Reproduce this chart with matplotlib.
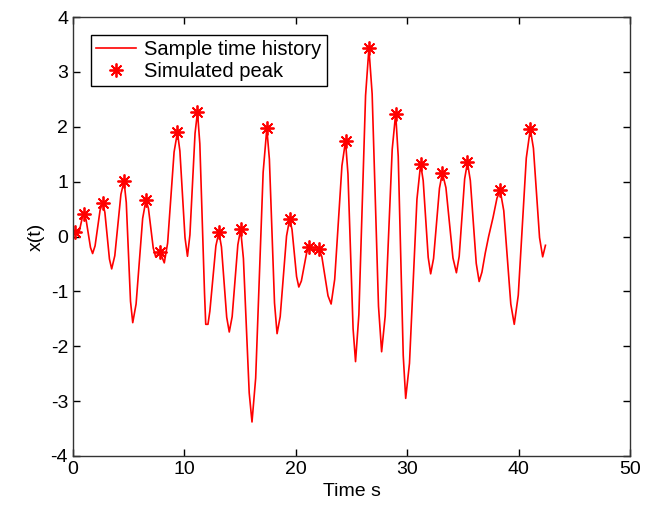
"""Sample time history with simulated peaks."""

import matplotlib
matplotlib.use("Agg")
import matplotlib.pyplot as plt

plt.rcParams["font.family"] = ["Liberation Sans", "DejaVu Sans"]
plt.rcParams["axes.unicode_minus"] = False

# trace (time in s, response x(t))
trace_t = [0.0, 0.15, 0.45, 0.59, 0.86, 1.0, 1.19, 1.58, 1.77, 1.99, 2.44,
           2.67, 2.87, 3.28, 3.48, 3.76, 4.31, 4.59, 4.79, 5.17, 5.37, 5.67,
           6.26, 6.56, 6.78, 7.21, 7.43, 7.82, 8.2, 8.5, 9.08, 9.38, 9.6,
           10.06, 10.28, 10.5, 10.96, 11.18, 11.39, 11.81, 11.92, 12.12,
           12.29, 12.83, 13.1, 13.33, 13.8, 14.03, 14.29, 14.8, 15.05, 15.3,
           15.82, 16.07, 16.4, 17.07, 17.4, 17.63, 18.09, 18.32, 18.6, 19.17,
           19.45, 19.66, 20.07, 20.27, 20.5, 20.97, 21.2, 21.6, 22.06, 22.34,
           22.89, 23.17, 23.49, 24.14, 24.46, 24.68, 25.14, 25.36, 25.66,
           26.26, 26.56, 26.85, 27.42, 27.7, 28.02, 28.65, 28.96, 29.19,
           29.64, 29.86, 30.2, 30.87, 31.2, 31.43, 31.88, 32.1, 32.36, 32.89,
           33.15, 33.47, 34.1, 34.41, 34.66, 35.15, 35.4, 35.66, 36.19, 36.45,
           36.7, 37.0, 37.3, 37.7, 38.05, 38.34, 38.66, 39.29, 39.6, 39.96,
           40.68, 41.04, 41.32, 41.87, 42.15, 42.4]
trace_x = [0.05, 0.09, 0.06, 0.11, 0.36, 0.41, 0.30, -0.20, -0.31, -0.17,
           0.48, 0.62, 0.44, -0.41, -0.59, -0.35, 0.77, 1.01, 0.62, -1.18,
           -1.57, -1.23, 0.33, 0.67, 0.51, -0.21, -0.37, -0.28, -0.48, -0.12,
           1.54, 1.9, 1.56, -0.02, -0.36, 0.03, 1.88, 2.27, 1.69, -1.03,
           -1.6, -1.6, -1.36, -0.17, 0.08, -0.19, -1.47, -1.74, -1.46, -0.15,
           0.13, -0.4, -2.85, -3.38, -2.58, 1.17, 1.97, 1.41, -1.21, -1.77,
           -1.46, 0.01, 0.32, 0.13, -0.73, -0.92, -0.81, -0.30, -0.19, -0.26,
           -0.22, -0.37, -1.08, -1.23, -0.78, 1.29, 1.74, 1.14, -1.68, -2.28,
           -1.42, 2.57, 3.43, 2.6, -1.27, -2.1, -1.45, 1.59, 2.24, 1.46,
           -2.17, -2.95, -2.31, 0.68, 1.32, 1.02, -0.38, -0.68, -0.4, 0.88,
           1.16, 0.89, -0.39, -0.66, -0.36, 1.05, 1.35, 1.02, -0.49, -0.82,
           -0.65, -0.3, 0.0, 0.35, 0.7, 0.84, 0.47, -1.23, -1.6, -1.07, 1.43,
           1.96, 1.61, -0.02, -0.37, -0.16]

# detected peaks
peak_t = [0.15, 1.0, 2.67, 4.59, 6.56, 7.82, 9.38, 11.18, 13.1, 15.05, 17.4,
          19.45, 21.2, 22.06, 24.46, 26.56, 28.96, 31.2, 33.15, 35.4, 38.34,
          41.04]
peak_x = [0.09, 0.41, 0.62, 1.01, 0.67, -0.28, 1.9, 2.27, 0.08, 0.13, 1.97,
          0.32, -0.19, -0.22, 1.74, 3.43, 2.24, 1.32, 1.16, 1.35, 0.84, 1.96]

fig = plt.figure(figsize=(6.45, 5.17), dpi=100)
ax = fig.add_axes([0.113, 0.118, 0.864, 0.849])

ax.plot(trace_t, trace_x, "-", color="red", linewidth=1.2,
        label="Sample time history")
ax.plot(peak_t, peak_x, linestyle="none", marker=(8, 2, 0), markersize=10,
        markeredgewidth=1.3, color="red", label="Simulated peak")

ax.set_xlim(0, 50)
ax.set_ylim(-4, 4)
ax.set_xticks(range(0, 51, 10))
ax.set_yticks(range(-4, 5))
ax.tick_params(direction="in", top=True, right=True, length=5,
               labelsize=14, width=1)
for s in ax.spines.values():
    s.set_linewidth(1)
    s.set_color("#333333")

ax.set_xlabel("Time s", fontsize=14)
ax.set_ylabel("x(t)", fontsize=14)

leg = ax.legend(loc="upper left", numpoints=1, fontsize=14.5, fancybox=False,
                framealpha=1, edgecolor="black", borderpad=0.25,
                handlelength=2.0, handletextpad=0.4, labelspacing=0.15,
                borderaxespad=0.9)
leg.get_frame().set_linewidth(1)

fig.savefig("out.png", dpi=100)
